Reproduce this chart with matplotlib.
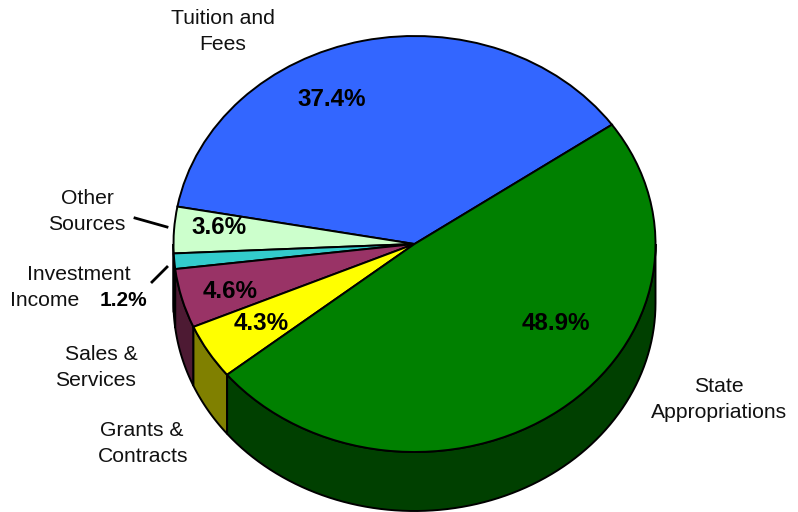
import numpy as np
import matplotlib
matplotlib.use("Agg")
import matplotlib.pyplot as plt
from matplotlib.patches import Polygon

plt.rcParams['font.family'] = ['Liberation Sans', 'DejaVu Sans']

# Revenue sources, counter-clockwise from the start angle
sources = ["Tuition and Fees", "Other Sources", "Investment Income",
           "Sales & Services", "Grants & Contracts", "State Appropriations"]
shares = [37.4, 3.6, 1.2, 4.6, 4.3, 48.9]
top_colors = ["#3366FF", "#CCFFCC", "#33CCCC", "#993366", "#FFFF00", "#008000"]
wall_colors = ["#1A3380", "#668066", "#1A6666", "#4D1A33", "#808000", "#004000"]

W, H = 798, 512
CX, CY, RX, RY, DEPTH = 414.5, 244.0, 241.0, 208.0, 59.0
START = 35.0

fig = plt.figure(figsize=(W / 100, H / 100), dpi=100)
ax = fig.add_axes([0, 0, 1, 1])

# Unit-circle pie, stretched into an ellipse by the axes limits
ax.pie(shares, colors=top_colors, startangle=START, counterclock=True, radius=1,
       normalize=True, wedgeprops=dict(edgecolor="black", linewidth=1.4, zorder=3))
ax.set_aspect("auto")
ax.set_xlim(-CX / RX, (W - CX) / RX)
ax.set_ylim((CY - H) / RY, CY / RY)
ax.axis("off")

# Side walls of the front half of the disc
depth = DEPTH / RY
edges = START + np.cumsum([0] + shares) * 360 / sum(shares)
for a0, a1, wall in zip(edges[:-1], edges[1:], wall_colors):
    lo, hi = max(a0, 180), min(a1, 360)
    if hi <= lo:
        continue
    t = np.radians(np.linspace(lo, hi, 80))
    x, y = np.cos(t), np.sin(t)
    pts = np.column_stack([np.r_[x, x[::-1]], np.r_[y, y[::-1] - depth]])
    ax.add_patch(Polygon(pts, closed=True, facecolor=wall, edgecolor="black",
                         linewidth=1.4, zorder=2))


def to_data(px, py):
    return (px - CX) / RX, (CY - py) / RY


def put(px, py, s, **kw):
    x, y = to_data(px, py)
    ax.text(x, y, s, ha="center", va="center", zorder=5, **kw)


# Category names
name_kw = dict(fontsize=15.2, color="#111111")
for px, py, s in [(223, 18, "Tuition and"), (223, 44, "Fees"),
                  (87, 198, "Other"), (87, 224, "Sources"),
                  (79, 274, "Investment"), (45, 300, "Income"),
                  (101, 354, "Sales &"), (95, 380, "Services"),
                  (142, 431, "Grants &"), (143, 456, "Contracts"),
                  (719, 386, "State"), (719, 412, "Appropriations")]:
    put(px, py, s, **name_kw)

# Percentages, in the same order as the shares
pct_xy = [(332, 100), (219, 228), (123, 300), (230, 292), (261, 324), (556, 324)]
for (px, py), v in zip(pct_xy, shares):
    size = 15 if v == 1.2 else 17.4
    put(px, py, f"{v:.1f}%", fontsize=size, fontweight="bold", color="black")

# Leader lines for the two narrow slices
for (p0, p1) in [((135, 218), (167, 227)), ((152, 282), (167, 267))]:
    a, b = to_data(*p0), to_data(*p1)
    ax.plot([a[0], b[0]], [a[1], b[1]], color="black", linewidth=2, zorder=4)

fig.savefig("out.png", dpi=100)
